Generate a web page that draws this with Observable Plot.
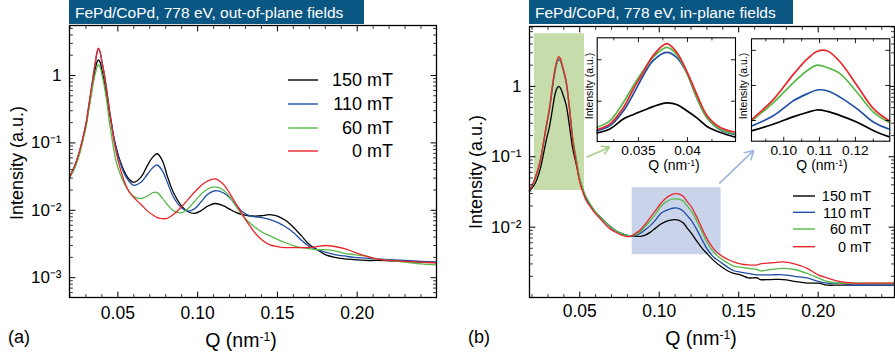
<!DOCTYPE html>
<html><head><meta charset="utf-8">
<script src="https://cdn.jsdelivr.net/npm/d3@7"></script>
<script src="https://cdn.jsdelivr.net/npm/@observablehq/plot@0.6"></script>
<style>
body{margin:0;background:#fff}
#root{position:relative;width:895px;height:357px;overflow:hidden;background:#fff;font-family:"Liberation Sans",Arial,sans-serif;color:#000}
.title{position:absolute;top:0;height:24px;line-height:25px;background:#0b5784;color:#fff;font-size:15.5px;padding-left:6px;box-sizing:border-box;white-space:nowrap}
.lbl{position:absolute;white-space:nowrap;transform:translate(-50%,-50%);line-height:1}
.rot{transform:translate(-50%,-50%) rotate(-90deg)}
sup{font-size:0.62em;vertical-align:0.5em;line-height:0}
</style></head><body><div id="root"></div><script>
// ---------- series names / colours ----------
const fields = ["150 mT", "110 mT", "60 mT", "0 mT"];
const colors = ["#000000", "#1f4fa3", "#56b947", "#e8262b"];

// ---------- panel (a): out-of-plane fields ----------
const qA = [0.0197,0.023,0.026,0.0285,0.030,0.0315,0.033,0.0345,0.036,0.037,0.0378,0.0388,0.040,0.0415,0.043,0.0445,0.046,0.0475,0.049,0.051,0.054,0.057,0.060,0.0645,0.0685,0.072,0.0747,0.078,0.081,0.085,0.090,0.094,0.098,0.102,0.106,0.111,0.116,0.120,0.124,0.128,0.132,0.136,0.140,0.145,0.150,0.155,0.160,0.165,0.170,0.175,0.180,0.186,0.192,0.198,0.205,0.212,0.220,0.230,0.240,0.2497];
const a150 = [0.031,0.045,0.072,0.125,0.18,0.30,0.50,0.85,1.3,1.6,1.71,1.6,1.2,0.8,0.5,0.30,0.19,0.12,0.085,0.058,0.038,0.029,0.026,0.031,0.046,0.062,0.069,0.054,0.032,0.018,0.0115,0.0095,0.0090,0.0098,0.0114,0.0126,0.0117,0.0104,0.0093,0.0086,0.0083,0.0082,0.0083,0.0086,0.0082,0.0071,0.0056,0.0042,0.0031,0.0026,0.0022,0.0020,0.0019,0.00185,0.0018,0.0018,0.00178,0.00175,0.0017,0.0017];
const a110 = [0.031,0.046,0.075,0.13,0.19,0.32,0.55,0.95,1.6,2.2,2.5,2.25,1.6,1.05,0.62,0.34,0.20,0.12,0.082,0.055,0.035,0.027,0.0235,0.026,0.034,0.043,0.047,0.038,0.026,0.0155,0.0108,0.0097,0.0105,0.0132,0.0170,0.0195,0.0182,0.0155,0.0122,0.0095,0.0084,0.0080,0.0078,0.0073,0.0066,0.0057,0.0047,0.0036,0.0029,0.0026,0.0024,0.0022,0.0021,0.0020,0.00195,0.0019,0.00185,0.0018,0.00175,0.0017];
const a60 = [0.030,0.042,0.068,0.12,0.17,0.28,0.45,0.75,1.1,1.35,1.44,1.35,1.05,0.70,0.42,0.22,0.13,0.078,0.052,0.037,0.025,0.019,0.016,0.0149,0.0163,0.0183,0.0183,0.0150,0.0122,0.0098,0.0092,0.0106,0.0135,0.0172,0.0205,0.0222,0.0200,0.0160,0.0115,0.0085,0.0067,0.0056,0.0048,0.0042,0.0037,0.0033,0.0030,0.0028,0.0027,0.0026,0.0026,0.0025,0.0023,0.0022,0.0021,0.0019,0.0018,0.0017,0.0016,0.00155];
const a0 = [0.031,0.046,0.076,0.13,0.19,0.32,0.56,0.97,1.65,2.25,2.55,2.3,1.6,1.05,0.6,0.33,0.19,0.11,0.072,0.046,0.027,0.019,0.0155,0.0122,0.0098,0.0085,0.0078,0.0075,0.0076,0.0087,0.0113,0.0145,0.0185,0.0232,0.0270,0.0293,0.0245,0.0180,0.0125,0.0087,0.0062,0.0046,0.0037,0.0031,0.0029,0.0028,0.0028,0.0028,0.0028,0.0029,0.0030,0.0029,0.0027,0.0024,0.0021,0.0019,0.0018,0.00175,0.0017,0.00165];

// ---------- panel (b): in-plane fields ----------
const qB = [0.0184,0.022,0.025,0.0289,0.031,0.033,0.0345,0.0358,0.0368,0.0378,0.039,0.0414,0.0435,0.0456,0.048,0.0498,0.052,0.054,0.057,0.0603,0.063,0.0656,0.0687,0.072,0.0756,0.0790,0.0819,0.085,0.0882,0.0912,0.0945,0.0975,0.1008,0.1040,0.1065,0.1096,0.1121,0.1150,0.1176,0.1205,0.1239,0.1270,0.1301,0.1340,0.1385,0.1430,0.1469,0.151,0.1560,0.1616,0.1636,0.170,0.178,0.185,0.193,0.2,0.2056,0.213,0.2224,0.235,0.248];
const b150 = [0.032,0.042,0.065,0.17,0.27,0.5,0.78,0.95,1.0,0.95,0.82,0.55,0.28,0.13,0.075,0.048,0.033,0.026,0.020,0.0158,0.0138,0.0121,0.0104,0.0091,0.0082,0.0077,0.0075,0.0074,0.0074,0.0077,0.0085,0.0096,0.0110,0.0120,0.0125,0.0128,0.0126,0.0115,0.0097,0.0080,0.0062,0.0050,0.0042,0.0034,0.0028,0.0024,0.0022,0.0021,0.0019,0.0019,0.0018,0.0018,0.0018,0.0017,0.0016,0.0016,0.0015,0.0015,0.0015,0.0015,0.0015];
const b110 = [0.033,0.05,0.083,0.26,0.47,1.0,1.65,2.2,2.4,2.3,1.9,1.15,0.5,0.18,0.085,0.05,0.034,0.026,0.020,0.0158,0.0138,0.0121,0.0104,0.0091,0.0082,0.0077,0.0075,0.0076,0.0082,0.0092,0.0106,0.0125,0.0155,0.0172,0.0180,0.0187,0.0185,0.0170,0.0146,0.0122,0.0090,0.0066,0.0049,0.0038,0.0032,0.0027,0.0024,0.0023,0.0022,0.0021,0.0021,0.0021,0.0021,0.0020,0.0019,0.0017,0.0016,0.0016,0.0015,0.0015,0.0015];
const b60 = [0.033,0.05,0.085,0.27,0.5,1.1,1.75,2.3,2.55,2.4,1.95,1.2,0.52,0.19,0.088,0.051,0.035,0.027,0.0205,0.016,0.014,0.0122,0.0105,0.0092,0.0082,0.0077,0.0075,0.0078,0.0087,0.0102,0.0125,0.0152,0.0193,0.0225,0.0243,0.0252,0.0250,0.0235,0.0200,0.0165,0.0118,0.0085,0.0060,0.0045,0.0036,0.0031,0.0028,0.0027,0.0026,0.0025,0.0024,0.0025,0.0026,0.0025,0.0022,0.0019,0.0017,0.0016,0.0016,0.0016,0.0016];
const b0 = [0.033,0.05,0.085,0.27,0.5,1.1,1.8,2.4,2.65,2.5,2.0,1.2,0.5,0.17,0.078,0.046,0.031,0.024,0.019,0.0152,0.0130,0.0112,0.0096,0.0086,0.0078,0.0074,0.0074,0.0081,0.0092,0.0110,0.0139,0.0170,0.0215,0.0255,0.0280,0.0299,0.0297,0.0275,0.0230,0.0190,0.0135,0.0095,0.0068,0.0050,0.0040,0.0035,0.0032,0.0030,0.0029,0.0029,0.0030,0.0031,0.0032,0.0030,0.0026,0.0021,0.0019,0.0017,0.0016,0.0016,0.0016];

// highlighted zoom regions [x1, x2, y1, y2] and arrows [x1, y1, x2, y2] (panel b data units)
const zoomLow = [0.0215, 0.053, 0.0332, 5.6];
const zoomHigh = [0.083, 0.1389, 0.00405, 0.0363];
const arrowLow = [0.0547, 0.0989, 0.0687, 0.137];
const arrowHigh = [0.1381, 0.0422, 0.1594, 0.123];

// ---------- inset 1 (first peak, linear) ----------
const qI1 = [0.0308,0.0321,0.0335,0.0345,0.0355,0.0365,0.0379,0.0389,0.0399,0.0410,0.0420,0.0433,0.0449];
const i1_150 = [0.236,0.33,0.575,0.68,0.775,0.87,0.96,0.92,0.775,0.59,0.39,0.25,0.13];
const i1_110 = [0.29,0.41,0.775,1.18,1.62,1.98,2.18,2.06,1.70,1.06,0.60,0.316,0.19];
const i1_60 = [0.37,0.53,0.98,1.38,1.74,2.06,2.30,2.13,1.70,1.06,0.60,0.33,0.21];
const i1_0 = [0.316,0.454,0.855,1.30,1.70,2.10,2.39,2.18,1.74,1.14,0.655,0.372,0.25];

// ---------- inset 2 (second peak, linear) ----------
const qI2 = [0.0912,0.0972,0.1028,0.1065,0.1093,0.1121,0.1158,0.1205,0.1251,0.1293];
const i2_150 = [0.0071,0.0090,0.0111,0.0123,0.0130,0.0126,0.0114,0.0095,0.0071,0.0054];
const i2_110 = [0.0085,0.0114,0.0157,0.0176,0.0187,0.0185,0.0166,0.0133,0.0095,0.0076];
const i2_60 = [0.0100,0.0152,0.0209,0.0242,0.0258,0.0251,0.0233,0.0180,0.0123,0.0095];
const i2_0 = [0.0104,0.0161,0.0233,0.0275,0.0297,0.0299,0.0266,0.0199,0.0133,0.0100];

// ---------- tick values ----------
const xMajor = [0.05, 0.10, 0.15, 0.20];
const yMajorA = [1e-3, 1e-2, 1e-1, 1];
const yMajorB = [1e-2, 1e-1, 1];

// ---------- helpers ----------
const root = document.getElementById("root");
const FONT = '"Liberation Sans", Arial, sans-serif';
function toTable(q, vals) { return fields.flatMap((f, k) => vals[k].map((v, i) => ({q: q[i], v, f}))); }
const color = {domain: fields, range: colors};
const tickShape = {draw(c, l) { c.moveTo(0, 0); c.lineTo(0, -l); }};
function frameTicks(xVals, yVals, len, sw) {
  const o = {length: len, anchor: "start", shape: tickShape, stroke: "black", strokeWidth: sw};
  return [
    Plot.vector(xVals, {x: d => d, frameAnchor: "bottom", rotate: 0, ...o}),
    Plot.vector(xVals, {x: d => d, frameAnchor: "top", rotate: 180, ...o}),
    Plot.vector(yVals, {y: d => d, frameAnchor: "left", rotate: 90, ...o}),
    Plot.vector(yVals, {y: d => d, frameAnchor: "right", rotate: -90, ...o})
  ];
}
function logMinor(lo, hi) {
  const out = [];
  for (let e = -4; e <= 1; e++) for (let m = 2; m <= 9; m++) { const v = m * Math.pow(10, e); if (v > lo && v < hi) out.push(+v.toPrecision(3)); }
  return out;
}
function linMinor(lo, hi, step, majors) {
  const out = [];
  for (let v = Math.ceil(lo / step) * step; v <= hi + 1e-12; v += step) { const r = +v.toFixed(6); if (!majors.some(m => Math.abs(m - r) < 1e-9)) out.push(r); }
  return out;
}
const sup = {"-": "\u207B", "0": "\u2070", "1": "\u00B9", "2": "\u00B2", "3": "\u00B3"};
const fmtLog = d => d === 1 ? "1" : "10" + String(Math.round(Math.log10(d))).split("").map(c => sup[c]).join("");
function place(el, left, top) { el.style.position = "absolute"; el.style.left = left + "px"; el.style.top = top + "px"; root.appendChild(el); }
const baseStyle = {background: "transparent", fontFamily: FONT, color: "black", overflow: "visible"};
const CURVE = "catmull-rom";

// ---------- panel (a) ----------
const domA = {x: [0.0197, 0.2497], y: [5.08e-4, 5.52]};
const plotA = Plot.plot({
  width: 450, height: 357, marginLeft: 69, marginRight: 14, marginTop: 25, marginBottom: 60,
  x: {domain: domA.x, label: null}, y: {type: "log", domain: domA.y, label: null}, color,
  style: baseStyle,
  marks: [
    Plot.line(toTable(qA, [a150, a110, a60, a0]), {x: "q", y: "v", z: "f", stroke: "f", strokeWidth: 1.3, curve: CURVE}),
    ...frameTicks(xMajor, yMajorA, 5.5, 1),
    ...frameTicks(linMinor(0.02, 0.249, 0.01, xMajor), logMinor(domA.y[0], domA.y[1]), 3, 0.8),
    Plot.axisX({ticks: xMajor, tickSize: 0, tickPadding: 9, tickFormat: d3.format(".2f"), fontSize: 17.5, label: null}),
    Plot.axisY({ticks: yMajorA, tickSize: 0, tickPadding: 8, tickFormat: fmtLog, fontSize: 17, label: null}),
    Plot.frame({stroke: "black", strokeWidth: 1.3})
  ]
});
place(plotA, 0, 0);

// ---------- panel (b) ----------
const domB = {x: [0.0184, 0.248], y: [1.0e-3, 7.1]};
const plotB = Plot.plot({
  width: 445, height: 357, marginLeft: 79, marginRight: 1, marginTop: 26, marginBottom: 60,
  x: {domain: domB.x, label: null}, y: {type: "log", domain: domB.y, label: null}, color,
  style: baseStyle,
  marks: [
    Plot.rect([zoomLow], {x1: d => d[0], x2: d => d[1], y1: d => d[2], y2: d => d[3], fill: "#c6dcab"}),
    Plot.rect([zoomHigh], {x1: d => d[0], x2: d => d[1], y1: d => d[2], y2: d => d[3], fill: "#c9d4eb"}),
    Plot.arrow([arrowLow], {x1: d => d[0], y1: d => d[1], x2: d => d[2], y2: d => d[3], stroke: "#a8cf88", strokeWidth: 1.6, headLength: 9}),
    Plot.arrow([arrowHigh], {x1: d => d[0], y1: d => d[1], x2: d => d[2], y2: d => d[3], stroke: "#9fb6df", strokeWidth: 1.6, headLength: 9}),
    Plot.line(toTable(qB, [b150, b110, b60, b0]), {x: "q", y: "v", z: "f", stroke: "f", strokeWidth: 1.3, curve: CURVE}),
    ...frameTicks(xMajor, [1e-3, ...yMajorB], 5.5, 1),
    ...frameTicks(linMinor(0.02, 0.248, 0.01, xMajor), logMinor(domB.y[0], domB.y[1]), 3, 0.8),
    Plot.axisX({ticks: xMajor, tickSize: 0, tickPadding: 7.5, tickFormat: d3.format(".2f"), fontSize: 17.5, label: null}),
    Plot.axisY({ticks: yMajorB, tickSize: 0, tickPadding: 8, tickFormat: fmtLog, fontSize: 17, label: null}),
    Plot.frame({stroke: "black", strokeWidth: 1.3})
  ]
});
place(plotB, 450, 0);

// ---------- insets ----------
function inset(q, vals, xd, yd, xt, xminor, yt, fmt, m) {
  return Plot.plot({
    width: m.w, height: m.h, marginLeft: m.l, marginRight: m.r, marginTop: m.t, marginBottom: m.b,
    x: {domain: xd, label: null}, y: {domain: yd, axis: null, label: null}, color,
    style: baseStyle,
    marks: [
      Plot.frame({fill: "white", stroke: "none"}),
      Plot.line(toTable(q, vals), {x: "q", y: "v", z: "f", stroke: "f", strokeWidth: 1.7, curve: CURVE}),
      ...frameTicks(xt, yt, 4, 0.9),
      ...frameTicks(xminor, [], 2.2, 0.8),
      Plot.axisX({ticks: xt, tickSize: 0, tickPadding: 4, tickFormat: fmt, fontSize: 13.7, label: null}),
      Plot.frame({stroke: "black", strokeWidth: 1.1})
    ]
  });
}
const in1 = inset(qI1, [i1_150, i1_110, i1_60, i1_0], [0.0308, 0.0449], [0.027, 2.53], [0.035, 0.04], [0.0325, 0.0375, 0.0425], [1, 2], d => String(d), {w: 162, h: 135, l: 20.7, r: 3, t: 7.3, b: 24});
place(in1, 576, 30);
const in2 = inset(qI2, [i2_150, i2_110, i2_60, i2_0], [0.091, 0.1296], [0.0041, 0.0333], [0.10, 0.11, 0.12], [0.095, 0.105, 0.115, 0.125], [0.01, 0.02, 0.03], d3.format(".2f"), {w: 162, h: 135, l: 20, r: 3.7, t: 8.3, b: 24.3});
place(in2, 731, 30);

// ---------- text overlays ----------
function addHTML(html) { const d = document.createElement("div"); d.innerHTML = html; while (d.firstChild) root.appendChild(d.firstChild); }
addHTML(`<div class="title" style="left:69px;width:295px">FePd/CoPd, 778 eV, out-of-plane fields</div>`);
addHTML(`<div class="title" style="left:529px;width:264px">FePd/CoPd, 778 eV, in-plane fields</div>`);
addHTML(`<div class="lbl rot" style="left:17px;top:163px;font-size:18px">Intensity (a.u.)</div>`);
addHTML(`<div class="lbl rot" style="left:476px;top:172px;font-size:18px">Intensity (a.u.)</div>`);
addHTML(`<div class="lbl" style="left:241px;top:341px;font-size:19.5px">Q (nm<sup>-1</sup>)</div>`);
addHTML(`<div class="lbl" style="left:701px;top:339px;font-size:19.5px">Q (nm<sup>-1</sup>)</div>`);
addHTML(`<div class="lbl" style="left:19px;top:337px;font-size:18px">(a)</div>`);
addHTML(`<div class="lbl" style="left:479px;top:337px;font-size:18px">(b)</div>`);
addHTML(`<div class="lbl rot" style="left:589px;top:86px;font-size:10.5px">Intensity (a.u.)</div>`);
addHTML(`<div class="lbl rot" style="left:742.5px;top:86px;font-size:10.5px">Intensity (a.u.)</div>`);
addHTML(`<div class="lbl" style="left:674px;top:164.5px;font-size:14px">Q (nm<sup>-1</sup>)</div>`);
addHTML(`<div class="lbl" style="left:822px;top:164.5px;font-size:14px">Q (nm<sup>-1</sup>)</div>`);

// ---------- legends ----------
function legend(x0, x1, xt, rows, fs) {
  const ns = "http://www.w3.org/2000/svg";
  const svg = document.createElementNS(ns, "svg");
  svg.setAttribute("width", 895); svg.setAttribute("height", 357);
  svg.style.position = "absolute"; svg.style.left = "0px"; svg.style.top = "0px"; svg.style.pointerEvents = "none";
  fields.forEach((f, i) => {
    const l = document.createElementNS(ns, "line");
    l.setAttribute("x1", x0); l.setAttribute("x2", x1); l.setAttribute("y1", rows[i]); l.setAttribute("y2", rows[i]);
    l.setAttribute("stroke", colors[i]); l.setAttribute("stroke-width", 1.4);
    svg.appendChild(l);
    const t = document.createElementNS(ns, "text");
    t.setAttribute("x", xt); t.setAttribute("y", rows[i]); t.setAttribute("dy", "0.36em");
    t.setAttribute("text-anchor", "end"); t.setAttribute("font-size", fs); t.setAttribute("font-family", FONT);
    t.textContent = f; svg.appendChild(t);
  });
  root.appendChild(svg);
}
legend(288, 318, 393, [80, 104, 128, 151], 18);
legend(793, 815, 871, [196, 212.3, 229, 246.7], 14.5);
</script></body></html>
